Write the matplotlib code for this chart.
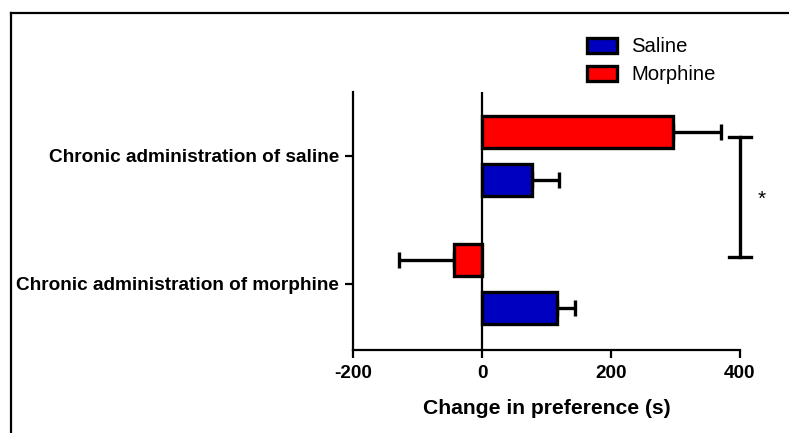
import matplotlib.pyplot as plt
from matplotlib.lines import Line2D
from matplotlib.patches import Patch

plt.rcParams['font.family'] = ['Liberation Sans', 'DejaVu Sans']
plt.rcParams['axes.unicode_minus'] = False

groups = ['Chronic administration of morphine', 'Chronic administration of saline']
saline_mean = [117, 78]
saline_err = [27, 42]
morphine_mean = [-44, 296]
morphine_err = [85, 74]

blue = '#0000C0'
red = '#FF0000'

fig = plt.figure(figsize=(7.89, 4.33), dpi=100)
ax = fig.add_axes([353 / 789, 1 - 350 / 433, 387 / 789, 258 / 433])

h = 0.25
off = 0.1875
ypos = list(range(len(groups)))


def one_sided(means, errs):
    lo = [e if m < 0 else 0 for m, e in zip(means, errs)]
    hi = [e if m >= 0 else 0 for m, e in zip(means, errs)]
    return [lo, hi]


ys = [y - off for y in ypos]
ax.barh(ys, saline_mean, height=h, color=blue, edgecolor='black', linewidth=2.4, zorder=3)
ax.errorbar(saline_mean, ys, xerr=one_sided(saline_mean, saline_err), fmt='none',
            ecolor='black', elinewidth=2.4, capsize=5.5, capthick=2.4, zorder=2)

yr = [y + off for y in ypos]
ax.barh(yr, morphine_mean, height=h, color=red, edgecolor='black', linewidth=2.4, zorder=3)
ax.errorbar(morphine_mean, yr, xerr=one_sided(morphine_mean, morphine_err), fmt='none',
            ecolor='black', elinewidth=2.4, capsize=5.5, capthick=2.4, zorder=2)

ax.axvline(0, color='black', linewidth=1.6, zorder=4)

ax.set_xlim(-200, 400)
ax.set_ylim(-0.516, 1.5)
ax.set_xticks([-200, 0, 200, 400])
ax.set_yticks(ypos)
ax.set_yticklabels(groups)
for lab in ax.get_xticklabels() + ax.get_yticklabels():
    lab.set_fontweight('bold')
    lab.set_fontsize(13.7)
ax.tick_params(axis='both', width=1.6, length=6, pad=4)
ax.tick_params(axis='x', pad=5)
ax.set_xlabel('Change in preference (s)', fontsize=15.2, fontweight='bold', labelpad=12)

for s in ['top', 'right']:
    ax.spines[s].set_visible(False)
for s in ['left', 'bottom']:
    ax.spines[s].set_linewidth(1.6)

# significance bracket
ax.plot([400, 400], [0.21, 1.15], color='black', linewidth=2.4, clip_on=False)
ax.plot([383, 417], [1.15, 1.15], color='black', linewidth=2.4, clip_on=False)
ax.plot([383, 417], [0.21, 0.21], color='black', linewidth=2.4, clip_on=False)
ax.text(434, 0.66, '*', fontsize=15, ha='center', va='center')

handles = [Patch(facecolor=blue, edgecolor='black', linewidth=2.4, label='Saline'),
           Patch(facecolor=red, edgecolor='black', linewidth=2.4, label='Morphine')]
fig.legend(handles=handles, loc='upper left', bbox_to_anchor=(569 / 789, 1 - 19 / 433),
           frameon=False, fontsize=14.6, handlelength=1.48, handleheight=0.79,
           handletextpad=0.69, labelspacing=0.45)

# figure frame
fig.add_artist(Line2D([11 / 789, 11 / 789], [0, 1 - 13 / 433], transform=fig.transFigure,
                      color='black', linewidth=1.6))
fig.add_artist(Line2D([11 / 789, 1], [1 - 13 / 433, 1 - 13 / 433], transform=fig.transFigure,
                      color='black', linewidth=1.6))

fig.savefig('out.png', dpi=100)
